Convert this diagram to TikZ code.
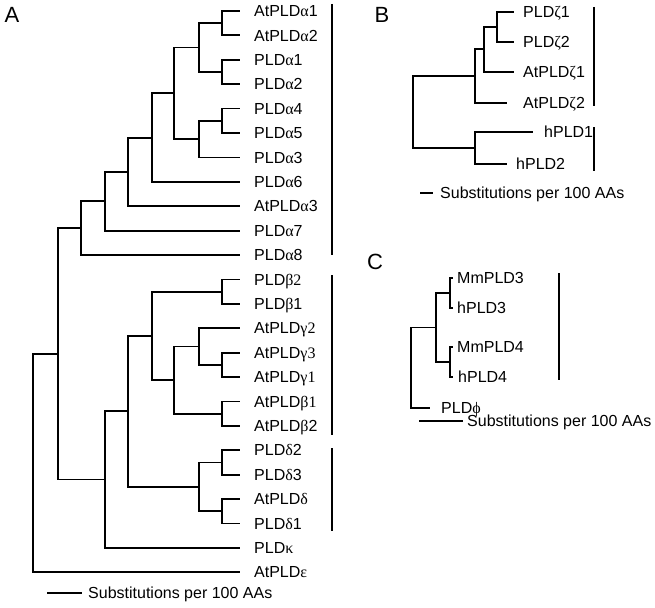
\documentclass[tikz,border=0pt]{standalone}
\usepackage{fontspec}
\setmainfont{Liberation Sans}
\newfontfamily\grk{Liberation Serif}
\newcommand{\gk}[1]{{\grk #1}}
\begin{document}
\begin{tikzpicture}[x=1pt,y=-1pt,
  br/.style={line width=1.8pt},
  clbar/.style={line width=2pt},
  lab/.style={anchor=west, inner sep=0pt, text height=11.5pt, text depth=0pt, font=\fontsize{16}{18}\selectfont},
  panel/.style={inner sep=0pt, font=\fontsize{22}{24}\selectfont}]
\useasboundingbox (0,0) rectangle (655,607);

% ---------------- Panel A ----------------
\node[panel] (pA) at (12,15) {A};
% leaf ends
\coordinate (a0) at (240,11);    \node[lab] (ta0) at (254,11) {AtPLD\gk{α}1};
\coordinate (a1) at (240,35.4);  \node[lab] (ta1) at (254,35.4) {AtPLD\gk{α}2};
\coordinate (a2) at (240,59.8);  \node[lab] (ta2) at (254,59.8) {PLD\gk{α}1};
\coordinate (a3) at (240,84.2);  \node[lab] (ta3) at (254,84.2) {PLD\gk{α}2};
\coordinate (a4) at (240,108.6); \node[lab] (ta4) at (254,108.6) {PLD\gk{α}4};
\coordinate (a5) at (240,133);   \node[lab] (ta5) at (254,133) {PLD\gk{α}5};
\coordinate (a6) at (240,157.4); \node[lab] (ta6) at (254,157.4) {PLD\gk{α}3};
\coordinate (a7) at (240,181.8); \node[lab] (ta7) at (254,181.8) {PLD\gk{α}6};
\coordinate (a8) at (240,206.2); \node[lab] (ta8) at (254,206.2) {AtPLD\gk{α}3};
\coordinate (a9) at (240,230.6); \node[lab] (ta9) at (254,230.6) {PLD\gk{α}7};
\coordinate (a10) at (240,255);  \node[lab] (ta10) at (254,255) {PLD\gk{α}8};
\coordinate (a11) at (240,279.4); \node[lab] (ta11) at (254,279.4) {PLD\gk{β2}};
\coordinate (a12) at (240,303.8); \node[lab] (ta12) at (254,303.8) {PLD\gk{β}1};
\coordinate (a13) at (240,328.2); \node[lab] (ta13) at (254,328.2) {AtPLD\gk{γ2}};
\coordinate (a14) at (240,352.6); \node[lab] (ta14) at (254,352.6) {AtPLD\gk{γ3}};
\coordinate (a15) at (240,377);   \node[lab] (ta15) at (254,377) {AtPLD\gk{γ1}};
\coordinate (a16) at (240,401.4); \node[lab] (ta16) at (254,401.4) {AtPLD\gk{β1}};
\coordinate (a17) at (240,425.8); \node[lab] (ta17) at (254,425.8) {AtPLD\gk{β}2};
\coordinate (a18) at (240,450.2); \node[lab] (ta18) at (254,450.2) {PLD\gk{δ}2};
\coordinate (a19) at (240,474.6); \node[lab] (ta19) at (254,474.6) {PLD\gk{δ}3};
\coordinate (a20) at (240,499);   \node[lab] (ta20) at (254,499) {AtPLD\gk{δ}};
\coordinate (a21) at (240,523.4); \node[lab] (ta21) at (254,523.4) {PLD\gk{δ}1};
\coordinate (a22) at (240,547.8); \node[lab] (ta22) at (254,547.8) {PLD\gk{κ}};
\coordinate (a23) at (240,572.2); \node[lab] (ta23) at (254,572.2) {AtPLD\gk{ε}};
% internal nodes
\coordinate (n1) at (222,23.2);
\coordinate (n2) at (222,72);
\coordinate (n3) at (199,47.6);
\coordinate (n4) at (222,120.8);
\coordinate (n5) at (199,139.1);
\coordinate (n6) at (174,93.35);
\coordinate (n7) at (152,137.6);
\coordinate (n8) at (128,171.9);
\coordinate (n9) at (105,201.2);
\coordinate (n10) at (81,228.1);
\coordinate (b1) at (222,291.6);
\coordinate (g1) at (222,364.8);
\coordinate (g2) at (199,346.5);
\coordinate (b2) at (222,413.6);
\coordinate (g3) at (174,380.05);
\coordinate (g4) at (152,335.8);
\coordinate (d1) at (222,462.4);
\coordinate (d2) at (222,511.2);
\coordinate (d3) at (199,486.8);
\coordinate (g5) at (128,411.3);
\coordinate (k1) at (105,479.55);
\coordinate (m1) at (58,353.8);
\coordinate (rA) at (33,463);
% branches
\draw[br] (n1) |- (a0); \draw[br] (n1) |- (a1);
\draw[br] (n2) |- (a2); \draw[br] (n2) |- (a3);
\draw[br] (n3) |- (n1); \draw[br] (n3) |- (n2);
\draw[br] (n4) |- (a4); \draw[br] (n4) |- (a5);
\draw[br] (n5) |- (n4); \draw[br] (n5) |- (a6);
\draw[br] (n6) |- (n3); \draw[br] (n6) |- (n5);
\draw[br] (n7) |- (n6); \draw[br] (n7) |- (a7);
\draw[br] (n8) |- (n7); \draw[br] (n8) |- (a8);
\draw[br] (n9) |- (n8); \draw[br] (n9) |- (a9);
\draw[br] (n10) |- (n9); \draw[br] (n10) |- (a10);
\draw[br] (b1) |- (a11); \draw[br] (b1) |- (a12);
\draw[br] (g1) |- (a14); \draw[br] (g1) |- (a15);
\draw[br] (g2) |- (a13); \draw[br] (g2) |- (g1);
\draw[br] (b2) |- (a16); \draw[br] (b2) |- (a17);
\draw[br] (g3) |- (g2); \draw[br] (g3) |- (b2);
\draw[br] (g4) |- (b1); \draw[br] (g4) |- (g3);
\draw[br] (d1) |- (a18); \draw[br] (d1) |- (a19);
\draw[br] (d2) |- (a20); \draw[br] (d2) |- (a21);
\draw[br] (d3) |- (d1); \draw[br] (d3) |- (d2);
\draw[br] (g5) |- (g4); \draw[br] (g5) |- (d3);
\draw[br] (k1) |- (g5); \draw[br] (k1) |- (a22);
\draw[br] (m1) |- (n10); \draw[br] (m1) |- (k1);
\draw[br] (rA) |- (m1); \draw[br] (rA) |- (a23);
% clade bars
\coordinate (ca1) at (332,4);   \coordinate (ca2) at (332,255);
\coordinate (cb1) at (332,275); \coordinate (cb2) at (332,435);
\coordinate (cc1) at (332,448); \coordinate (cc2) at (332,531);
\draw[clbar] (ca1) -- (ca2);
\draw[clbar] (cb1) -- (cb2);
\draw[clbar] (cc1) -- (cc2);
% scale
\coordinate (sa1) at (47,593); \coordinate (sa2) at (82,593);
\draw[br] (sa1) -- (sa2);
\node[lab] (tsa) at (88,593) {Substitutions per 100 AAs};

% ---------------- Panel B ----------------
\node[panel] (pB) at (382,15) {B};
\coordinate (e1) at (514,11.7);  \node[lab] (te1) at (523,11.7) {PLD\gk{ζ}1};
\coordinate (e2) at (514,41.7);  \node[lab] (te2) at (523,41.7) {PLD\gk{ζ}2};
\coordinate (e3) at (514,71.7);  \node[lab] (te3) at (523,71.7) {AtPLD\gk{ζ}1};
\coordinate (e4) at (507,103);   \node[lab] (te4) at (523,103) {AtPLD\gk{ζ}2};
\coordinate (e5) at (533,131.7); \node[lab] (te5) at (544,131.7) {hPLD1};
\coordinate (e6) at (507,164);   \node[lab] (te6) at (516,164) {hPLD2};
\coordinate (z1) at (497,26.7);
\coordinate (z2) at (484,49.2);
\coordinate (z3) at (475,76.1);
\coordinate (h1) at (475,147.85);
\coordinate (rB) at (413,112);
\draw[br] (z1) |- (e1); \draw[br] (z1) |- (e2);
\draw[br] (z2) |- (z1); \draw[br] (z2) |- (e3);
\draw[br] (z3) |- (z2); \draw[br] (z3) |- (e4);
\draw[br] (h1) |- (e5); \draw[br] (h1) |- (e6);
\draw[br] (rB) |- (z3); \draw[br] (rB) |- (h1);
\coordinate (cd1) at (594,7);   \coordinate (cd2) at (594,106);
\coordinate (ce1) at (594,127); \coordinate (ce2) at (594,171);
\draw[clbar] (cd1) -- (cd2);
\draw[clbar] (ce1) -- (ce2);
\coordinate (sb1) at (420,193); \coordinate (sb2) at (433,193);
\draw[br] (sb1) -- (sb2);
\node[lab] (tsb) at (440,193) {Substitutions per 100 AAs};

% ---------------- Panel C ----------------
\node[panel] (pC) at (375,262) {C};
\coordinate (f1) at (453,278); \node[lab] (tf1) at (457,278) {MmPLD3};
\coordinate (f2) at (453,308); \node[lab] (tf2) at (457,308) {hPLD3};
\coordinate (f3) at (453,347); \node[lab] (tf3) at (457,347) {MmPLD4};
\coordinate (f4) at (453,377); \node[lab] (tf4) at (458,377) {hPLD4};
\coordinate (f5) at (430,408); \node[lab] (tf5) at (441,408) {PLD\gk{ϕ}};
\coordinate (c1) at (450,293);
\coordinate (c2) at (450,362);
\coordinate (c3) at (436,327.5);
\coordinate (rC) at (411,367.75);
\draw[br] (c1) |- (f1); \draw[br] (c1) |- (f2);
\draw[br] (c2) |- (f3); \draw[br] (c2) |- (f4);
\draw[br] (c3) |- (c1); \draw[br] (c3) |- (c2);
\draw[br] (rC) |- (c3); \draw[br] (rC) |- (f5);
\coordinate (cf1) at (559,273); \coordinate (cf2) at (559,380);
\draw[clbar] (cf1) -- (cf2);
\coordinate (sc1) at (419,421); \coordinate (sc2) at (463,421);
\draw[br] (sc1) -- (sc2);
\node[lab] (tsc) at (467,421) {Substitutions per 100 AAs};
\end{tikzpicture}
\end{document}
